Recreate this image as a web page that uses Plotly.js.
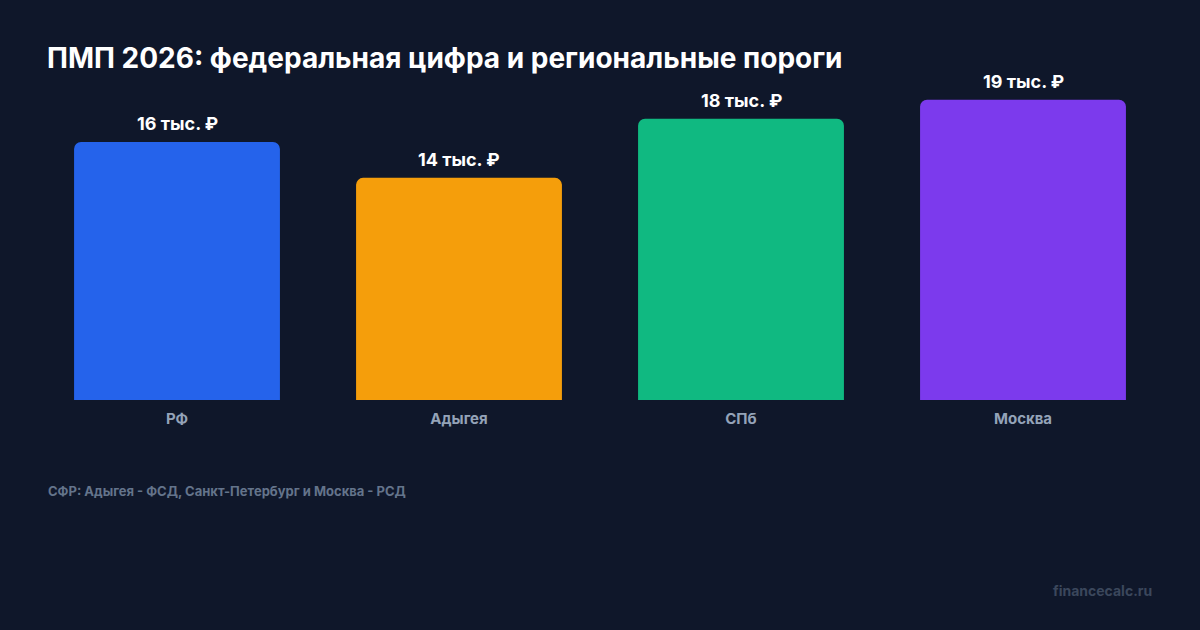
<!DOCTYPE html>
<html>
<head>
<meta charset="utf-8">
<script src="https://cdn.plot.ly/plotly-3.0.1.min.js"></script>
<style>
html,body{margin:0;padding:0;background:#0f172a;}
#chart{width:1200px;height:630px;}
</style>
</head>
<body>
<div id="chart"></div>
<script>
const categories = ["РФ", "Адыгея", "СПб", "Москва"];
const values = [16.33, 14.06, 17.8, 19.0];
const valueLabels = ["16 тыс. ₽", "14 тыс. ₽", "18 тыс. ₽", "19 тыс. ₽"];
const barColors = ["#2563eb", "#f59e0b", "#10b981", "#7c3aed"];

const FONT = "Inter, 'DejaVu Sans', sans-serif";

const trace = {
  type: "bar",
  x: categories,
  y: values,
  marker: {color: barColors, cornerradius: 7, line: {width: 0}},
  hoverinfo: "none"
};

const annotations = categories.map((c, i) => ({
  x: c, y: values[i], xref: "x", yref: "y",
  text: valueLabels[i], showarrow: false,
  yanchor: "bottom", yshift: 6,
  font: {family: FONT, size: 18, color: "#ffffff", weight: 700}
}));

const plotH = 630 - 84 - 230;
const plotW = 1200 - 72;

annotations.push({
  xref: "paper", yref: "paper",
  x: (46 - 36) / plotW, y: -(491 - 400) / plotH,
  xanchor: "left", yanchor: "middle",
  text: "СФР: Адыгея - ФСД, Санкт-Петербург и Москва - РСД",
  showarrow: false,
  font: {family: FONT, size: 13, color: "#64748b", weight: 700}
});
annotations.push({
  xref: "paper", yref: "paper",
  x: (1154 - 36) / plotW, y: -(590 - 400) / plotH,
  xanchor: "right", yanchor: "middle",
  text: "financecalc.ru",
  showarrow: false,
  font: {family: FONT, size: 14, color: "#3b475c", weight: 700}
});

const layout = {
  width: 1200, height: 630,
  paper_bgcolor: "#0f172a", plot_bgcolor: "#0f172a",
  margin: {l: 36, r: 36, t: 84, b: 230},
  title: {
    text: "ПМП 2026: федеральная цифра и региональные пороги",
    x: 47 / 1200, xref: "container", xanchor: "left",
    y: 1 - 58 / 630, yref: "container", yanchor: "middle",
    font: {family: FONT, size: 28, color: "#ffffff", weight: 700}
  },
  bargap: 0.27,
  xaxis: {
    showgrid: false, zeroline: false, showline: false, ticks: "",
    ticklabelstandoff: 8,
    tickfont: {family: FONT, size: 15, color: "#94a3b8", weight: 700},
    fixedrange: true
  },
  yaxis: {
    range: [0, 20], visible: false, showgrid: false, zeroline: false, fixedrange: true
  },
  showlegend: false,
  annotations: annotations
};

Plotly.newPlot("chart", [trace], layout, {displayModeBar: false, staticPlot: true});
</script>
</body>
</html>
